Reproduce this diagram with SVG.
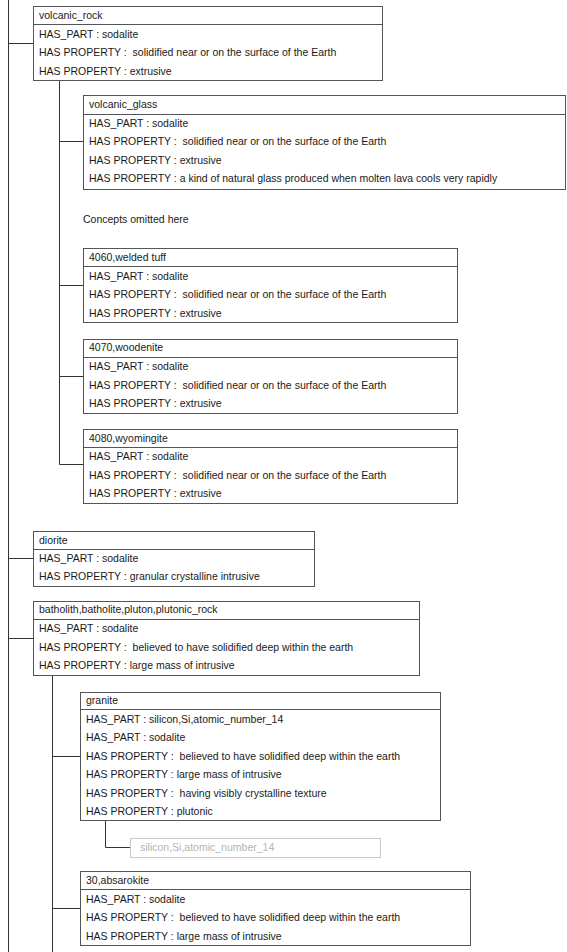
<svg xmlns="http://www.w3.org/2000/svg" width="567" height="952" viewBox="0 0 567 952">
  <style>
    .box { fill: #ffffff; stroke: #555555; stroke-width: 1; }
    .div { stroke: #555555; stroke-width: 1; }
    .link { stroke: #333333; stroke-width: 1; fill: none; }
    text { font-family: "Liberation Sans", Arial, sans-serif; font-size: 10.5px; fill: #1a1a1a; white-space: pre; }
    .ghost { fill: #ffffff; stroke: #c8c8c8; stroke-width: 1; }
    .ghost-text { fill: #b4b4b4; }
  </style>
  <rect x="0" y="0" width="567" height="952" fill="#ffffff"/>

  <!-- tree connectors -->
  <g id="connectors">
    <path class="link" d="M8.5 0 V952"/>
    <path class="link" d="M8.5 43.5 H33"/>
    <path class="link" d="M59.5 80 V464.5"/>
    <path class="link" d="M59.5 141.5 H83"/>
    <path class="link" d="M59.5 285.5 H83"/>
    <path class="link" d="M59.5 376.5 H83"/>
    <path class="link" d="M59.5 464.5 H83"/>
    <path class="link" d="M8.5 558.5 H33"/>
    <path class="link" d="M8.5 638.5 H33"/>
    <path class="link" d="M52.5 675 V952"/>
    <path class="link" d="M52.5 756.5 H80"/>
    <path class="link" d="M105.5 820 V847.5 H130"/>
    <path class="link" d="M52.5 908.5 H80"/>
  </g>

  <g id="volcanic_rock">
    <rect class="box" x="33.5" y="6.5" width="349" height="74"/>
    <line class="div" x1="33.5" y1="24.5" x2="382.5" y2="24.5"/>
    <text x="39" y="19">volcanic_rock</text>
    <text x="39" y="38">HAS_PART : sodalite</text>
    <text x="39" y="56">HAS PROPERTY :  solidified near or on the surface of the Earth</text>
    <text x="39" y="75">HAS PROPERTY : extrusive</text>
  </g>

  <g id="volcanic_glass">
    <rect class="box" x="83.5" y="95.5" width="482" height="94"/>
    <line class="div" x1="83.5" y1="114.5" x2="565.5" y2="114.5"/>
    <text x="89" y="108">volcanic_glass</text>
    <text x="89" y="127">HAS_PART : sodalite</text>
    <text x="89" y="145">HAS PROPERTY :  solidified near or on the surface of the Earth</text>
    <text x="89" y="164">HAS PROPERTY : extrusive</text>
    <text x="89" y="182">HAS PROPERTY : a kind of natural glass produced when molten lava cools very rapidly</text>
  </g>

  <g id="omitted_note">
    <text x="83" y="223">Concepts omitted here</text>
  </g>

  <g id="welded_tuff">
    <rect class="box" x="83.5" y="248.5" width="374" height="74"/>
    <line class="div" x1="83.5" y1="266.5" x2="457.5" y2="266.5"/>
    <text x="89" y="261">4060,welded tuff</text>
    <text x="89" y="280">HAS_PART : sodalite</text>
    <text x="89" y="298">HAS PROPERTY :  solidified near or on the surface of the Earth</text>
    <text x="89" y="317">HAS PROPERTY : extrusive</text>
  </g>

  <g id="woodenite">
    <rect class="box" x="83.5" y="339.5" width="374" height="74"/>
    <line class="div" x1="83.5" y1="357.5" x2="457.5" y2="357.5"/>
    <text x="89" y="351">4070,woodenite</text>
    <text x="89" y="370">HAS_PART : sodalite</text>
    <text x="89" y="389">HAS PROPERTY :  solidified near or on the surface of the Earth</text>
    <text x="89" y="407">HAS PROPERTY : extrusive</text>
  </g>

  <g id="wyomingite">
    <rect class="box" x="83.5" y="429.5" width="374" height="74"/>
    <line class="div" x1="83.5" y1="447.5" x2="457.5" y2="447.5"/>
    <text x="89" y="442">4080,wyomingite</text>
    <text x="89" y="460">HAS_PART : sodalite</text>
    <text x="89" y="479">HAS PROPERTY :  solidified near or on the surface of the Earth</text>
    <text x="89" y="497">HAS PROPERTY : extrusive</text>
  </g>

  <g id="diorite">
    <rect class="box" x="33.5" y="531.5" width="281" height="55"/>
    <line class="div" x1="33.5" y1="549.5" x2="314.5" y2="549.5"/>
    <text x="39" y="544">diorite</text>
    <text x="39" y="562">HAS_PART : sodalite</text>
    <text x="39" y="580">HAS PROPERTY : granular crystalline intrusive</text>
  </g>

  <g id="batholith">
    <rect class="box" x="33.5" y="601.5" width="386" height="74"/>
    <line class="div" x1="33.5" y1="619.5" x2="419.5" y2="619.5"/>
    <text x="39" y="613">batholith,batholite,pluton,plutonic_rock</text>
    <text x="39" y="632">HAS_PART : sodalite</text>
    <text x="39" y="651">HAS PROPERTY :  believed to have solidified deep within the earth</text>
    <text x="39" y="669">HAS PROPERTY : large mass of intrusive</text>
  </g>

  <g id="granite">
    <rect class="box" x="80.5" y="692.5" width="360" height="128"/>
    <line class="div" x1="80.5" y1="709.5" x2="440.5" y2="709.5"/>
    <text x="86" y="704">granite</text>
    <text x="86" y="723">HAS_PART : silicon,Si,atomic_number_14</text>
    <text x="86" y="741">HAS_PART : sodalite</text>
    <text x="86" y="760">HAS PROPERTY :  believed to have solidified deep within the earth</text>
    <text x="86" y="778">HAS PROPERTY : large mass of intrusive</text>
    <text x="86" y="797">HAS PROPERTY :  having visibly crystalline texture</text>
    <text x="86" y="815">HAS PROPERTY : plutonic</text>
  </g>

  <g id="silicon">
    <rect class="ghost" x="130.5" y="838.5" width="250" height="19"/>
    <text class="ghost-text" x="140" y="851">silicon,Si,atomic_number_14</text>
  </g>

  <g id="absarokite">
    <rect class="box" x="80.5" y="871.5" width="390" height="74"/>
    <line class="div" x1="80.5" y1="889.5" x2="470.5" y2="889.5"/>
    <text x="86" y="884">30,absarokite</text>
    <text x="86" y="903">HAS_PART : sodalite</text>
    <text x="86" y="921">HAS PROPERTY :  believed to have solidified deep within the earth</text>
    <text x="86" y="940">HAS PROPERTY : large mass of intrusive</text>
  </g>
</svg>
